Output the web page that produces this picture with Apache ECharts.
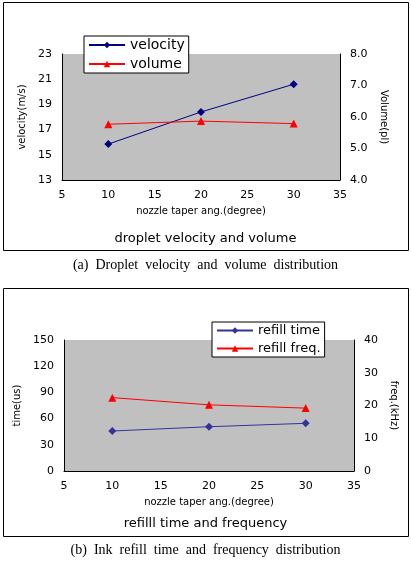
<!DOCTYPE html>
<html>
<head>
<meta charset="utf-8">
<script src="https://cdn.jsdelivr.net/npm/echarts@6/dist/echarts.min.js"></script>
<style>html,body{margin:0;background:#fff}#c{width:411px;height:563px}</style>
</head>
<body>
<div id="c"></div>
<script>
var angles = [10, 20, 30];
var velocity = [15.85, 18.4, 20.6];
var volume = [5.77, 5.87, 5.79];
var refillTime = [45.8, 50.7, 54.6];
var refillFreq = [22.4, 20.2, 19.2];

var myChart = echarts.init(document.getElementById('c'));
var font = 'DejaVu Sans';
function xAxis(gi) {
    return {
        type: 'value', gridIndex: gi, min: 5, max: 35, interval: 5,
        name: 'nozzle taper ang.(degree)', nameLocation: 'middle', nameGap: 26,
        nameTextStyle: { fontSize: 10, color: '#000', fontFamily: font },
        axisLine: { lineStyle: { color: '#000' } },
        axisTick: { show: false },
        axisLabel: { fontSize: 11, color: '#000', fontFamily: font, margin: 10 },
        splitLine: { show: false }
    };
}
function yAxis(gi, min, max, interval, name, right, dec) {
    return {
        type: 'value', gridIndex: gi, min: min, max: max, interval: interval,
        position: right ? 'right' : 'left',
        name: name, nameLocation: 'middle', nameGap: right ? 30 : 34, nameRotate: right ? -90 : 90,
        nameTextStyle: { fontSize: 10, color: '#000', fontFamily: font },
        axisLine: { show: true, lineStyle: { color: '#000' } },
        axisTick: { show: false },
        axisLabel: { fontSize: 11, color: '#000', fontFamily: font, margin: 10,
            formatter: function (v) { return dec ? v.toFixed(1) : v; } },
        splitLine: { show: false }
    };
}
function line(name, x, y, data, color, sym, size) {
    return {
        name: name, type: 'line', xAxisIndex: x, yAxisIndex: y,
        data: angles.map(function (a, i) { return [a, data[i]]; }),
        symbol: sym, symbolSize: size,
        lineStyle: { color: color, width: 1 },
        itemStyle: { color: color }, animation: false
    };
}
var option = {
    backgroundColor: '#fff',
    legend: [
        { data: ['velocity', 'volume'], orient: 'vertical', left: 84, top: 36,
          itemWidth: 36, itemHeight: 8, itemGap: 5, backgroundColor: '#fff',
          borderColor: '#000', borderWidth: 1, padding: [2, 4],
          textStyle: { fontSize: 14, color: '#000', fontFamily: font } },
        { data: ['refill time', 'refill freq.'], orient: 'vertical', left: 212, top: 322,
          itemWidth: 36, itemHeight: 8, itemGap: 5, backgroundColor: '#fff',
          borderColor: '#000', borderWidth: 1, padding: [2, 4],
          textStyle: { fontSize: 13, color: '#000', fontFamily: font } }
    ],
    grid: [
        { left: 62, top: 54, width: 278, height: 126, backgroundColor: '#c0c0c0', show: true, borderWidth: 0 },
        { left: 64, top: 340, width: 290, height: 131, backgroundColor: '#c0c0c0', show: true, borderWidth: 0 }
    ],
    xAxis: [xAxis(0), xAxis(1)],
    yAxis: [
        yAxis(0, 13, 23, 2, 'velocity(m/s)', false, false),
        yAxis(0, 4, 8, 1, 'Volume(pl)', true, true),
        yAxis(1, 0, 150, 30, 'time(us)', false, false),
        yAxis(1, 0, 40, 10, 'freq.(kHz)', true, false)
    ],
    series: [
        line('velocity', 0, 0, velocity, '#000080', 'diamond', 8),
        line('volume', 0, 1, volume, '#ff0000', 'triangle', 8),
        line('refill time', 1, 2, refillTime, '#333399', 'diamond', 8),
        line('refill freq.', 1, 3, refillFreq, '#ff0000', 'triangle', 8)
    ],
    graphic: [
        { type: 'rect', shape: { x: 3.5, y: 2.5, width: 405, height: 248 }, style: { fill: 'none', stroke: '#000', lineWidth: 1 }, z: -1 },
        { type: 'rect', shape: { x: 3.5, y: 288.5, width: 405, height: 248 }, style: { fill: 'none', stroke: '#000', lineWidth: 1 }, z: -1 },
        { type: 'text', left: 'center', top: 232, style: { text: 'droplet velocity and volume', fontSize: 13, fontFamily: font, fill: '#000' } },
        { type: 'text', left: 'center', top: 517, style: { text: 'refilll time and frequency', fontSize: 13, fontFamily: font, fill: '#000' } },
        { type: 'text', left: 'center', top: 258, style: { text: '(a)  Droplet  velocity  and  volume  distribution', fontSize: 14, fontFamily: 'Liberation Serif', fill: '#000' } },
        { type: 'text', left: 'center', top: 543, style: { text: '(b)  Ink  refill  time  and  frequency  distribution', fontSize: 14, fontFamily: 'Liberation Serif', fill: '#000' } }
    ]
};
myChart.setOption(option);
</script>
</body>
</html>
